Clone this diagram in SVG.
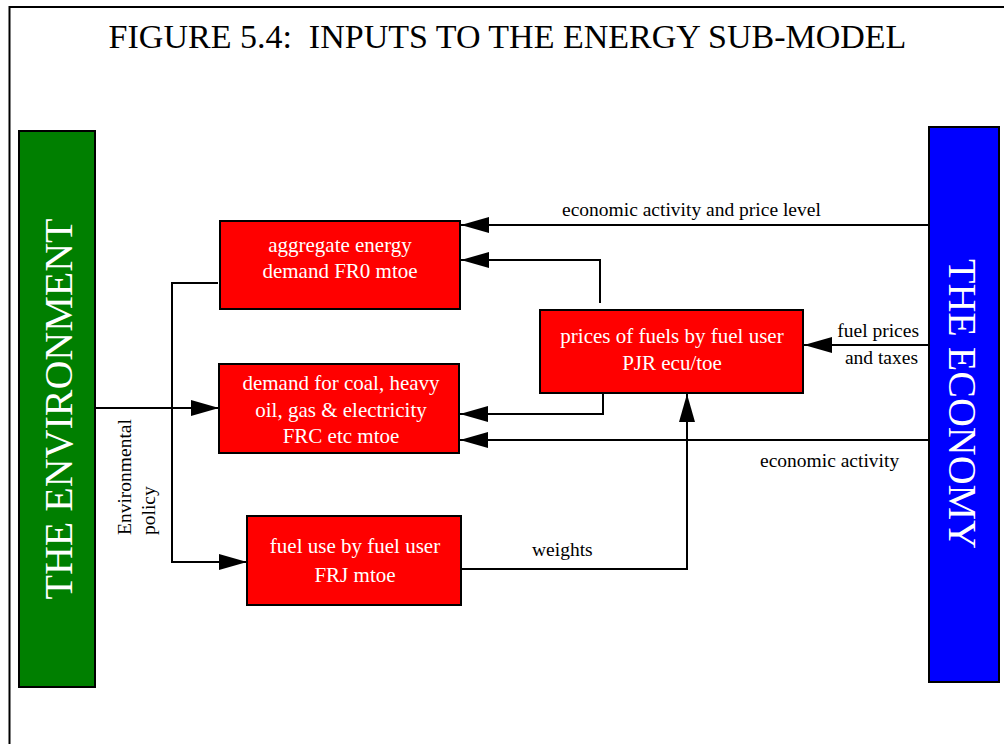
<svg xmlns="http://www.w3.org/2000/svg" width="1004" height="744" viewBox="0 0 1004 744">
<style>
.box{fill:#ff0000;stroke:#000;stroke-width:2}
.bt{font-family:"Liberation Serif","Times New Roman",serif;font-size:21px;fill:#fff;text-anchor:middle}
.lb{font-family:"Liberation Serif","Times New Roman",serif;font-size:19.5px;fill:#000}
.big{font-family:"Liberation Serif","Times New Roman",serif;font-size:40px;fill:#fff;text-anchor:middle}
.ttl{font-family:"Liberation Serif","Times New Roman",serif;font-size:34px;fill:#000;text-anchor:middle;white-space:pre}
.ln{fill:none;stroke:#000;stroke-width:2}
.arr{marker-end:url(#ah)}
</style>
<defs>
<marker id="ah" viewBox="0 0 28 16" refX="28" refY="8" markerWidth="28" markerHeight="16" markerUnits="userSpaceOnUse" orient="auto">
<path d="M0,0 L28,8 L0,16 z" fill="#000"/>
</marker>
</defs>
<rect x="0" y="0" width="1004" height="744" fill="#fff"/>
<rect x="9.5" y="7" width="1010" height="800" fill="none" stroke="#000" stroke-width="2"/>
<text class="ttl" x="507.5" y="48" xml:space="preserve">FIGURE 5.4:  INPUTS TO THE ENERGY SUB-MODEL</text>

<g id="environment">
<rect x="19" y="131" width="76" height="556" fill="#007f00" stroke="#000" stroke-width="2"/>
<text class="big" transform="translate(72,409) rotate(-90)">THE ENVIRONMENT</text>
</g>
<g id="economy">
<rect x="929" y="127" width="70" height="555" fill="#0000ff" stroke="#000" stroke-width="2"/>
<text class="big" transform="translate(949,404) rotate(90)">THE ECONOMY</text>
</g>
<g id="aggregate">
<rect class="box" x="220" y="221" width="240" height="88"/>
<text class="bt" x="340" y="252">aggregate energy</text>
<text class="bt" x="340" y="278">demand FR0 mtoe</text>
</g>
<g id="demand">
<rect class="box" x="219" y="364" width="240" height="89"/>
<text class="bt" x="341" y="390">demand for coal, heavy</text>
<text class="bt" x="341" y="417">oil, gas &amp; electricity</text>
<text class="bt" x="341" y="443">FRC etc mtoe</text>
</g>
<g id="fueluse">
<rect class="box" x="247" y="516" width="214" height="89"/>
<text class="bt" x="355" y="553">fuel use by fuel user</text>
<text class="bt" x="355" y="582">FRJ mtoe</text>
</g>
<g id="prices">
<rect class="box" x="540" y="310" width="263" height="83"/>
<text class="bt" x="672" y="343">prices of fuels by fuel user</text>
<text class="bt" x="672" y="370">PJR ecu/toe</text>
</g>

<g id="connectors">
<path class="ln arr" d="M929,225 H461"/>
<path class="ln arr" d="M600,303 V260 H461"/>
<path class="ln arr" d="M603,393 V414 H460"/>
<path class="ln arr" d="M928,440 H460"/>
<path class="ln arr" d="M929,345 H804"/>
<path class="ln arr" d="M461,569 H687 V394"/>
<path class="ln arr" d="M95,408 H219"/>
<path class="ln arr" d="M218,283 H172 V562 H247"/>
</g>

<g id="labels">
<text class="lb" x="562" y="216">economic activity and price level</text>
<text class="lb" x="919" y="337" text-anchor="end">fuel prices</text>
<text class="lb" x="918" y="364" text-anchor="end">and taxes</text>
<text class="lb" x="760" y="467">economic activity</text>
<text class="lb" x="532" y="556">weights</text>
<text class="lb" transform="translate(131,535) rotate(-90)">Environmental</text>
<text class="lb" transform="translate(155,535) rotate(-90)">policy</text>
</g>
</svg>
